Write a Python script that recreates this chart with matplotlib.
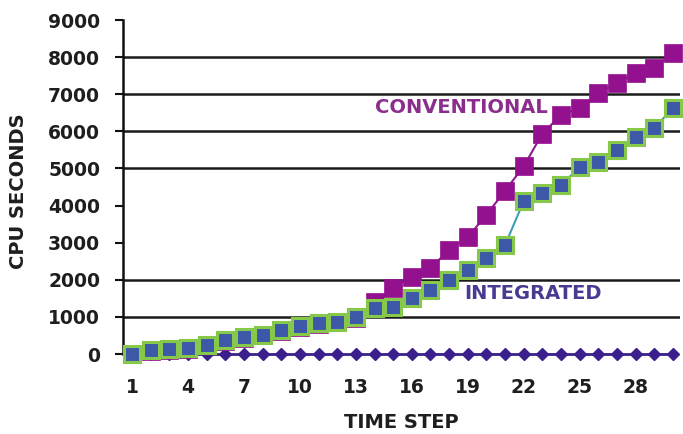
import matplotlib
matplotlib.use("Agg")
import matplotlib.pyplot as plt

# CPU seconds per time step
steps = list(range(1, 31))
conventional = [0, 90, 120, 140, 230, 360, 440, 500, 630, 740, 810, 850, 980, 1400,
                1780, 2075, 2320, 2800, 3150, 3750, 4400, 5060, 5940, 6440, 6630,
                7030, 7300, 7570, 7710, 8110]
integrated = [0, 100, 130, 150, 250, 380, 460, 510, 650, 760, 830, 870, 1000, 1240,
              1270, 1510, 1725, 1995, 2260, 2590, 2940, 4120, 4340, 4550, 5040,
              5170, 5500, 5850, 6090, 6630]
overhead = [0] * 30

y_ticks = list(range(0, 9001, 1000))
grid_levels = [1000, 2000, 5000, 6000, 7000, 8000]
x_ticks = list(range(1, 29, 3))

plt.rcParams['font.family'] = ['DejaVu Sans']

fig = plt.figure(figsize=(6.83, 4.34), dpi=100)
ax = fig.add_axes([0.1801, 0.1843, 0.8155, 0.7696])

for lvl in grid_levels:
    ax.axhline(lvl, color='#1a1a1a', lw=1.8, zorder=1)

ax.plot(steps, overhead, color='#3b1f8c', lw=2.0, marker='D', ms=6.5,
        mfc='#3b1f8c', mec='#3b1f8c', zorder=3, clip_on=False)
ax.plot(steps, conventional, color='#8e1a8e', lw=1.5, marker='s', ms=12.5,
        mfc='#93108f', mec='#93108f', mew=0.5, zorder=4, clip_on=False)
ax.plot(steps, integrated, color='#3f9fb2', lw=1.5, marker='s', ms=11,
        mfc='#3d58a6', mec='#86c94a', mew=2.2, zorder=5, clip_on=False)

ax.text(18.64, 6630, 'CONVENTIONAL', color='#8a2d8c', fontsize=14,
        fontweight='bold', ha='center', va='center', zorder=6)
ax.text(22.5, 1644, 'INTEGRATED', color='#4b3a92', fontsize=14,
        fontweight='bold', ha='center', va='center', zorder=6)

ax.set_xlim(0.518, 30.375)
ax.set_ylim(0, 9000)
ax.set_yticks(y_ticks)
ax.set_xticks(x_ticks)
ax.tick_params(axis='y', direction='out', length=6, width=1.5, color='#111111',
               pad=10.5, labelsize=13.5, labelcolor='#1e1e1e')
ax.tick_params(axis='x', length=0, pad=17, labelsize=13.5, labelcolor='#1e1e1e')
for lab in ax.get_yticklabels() + ax.get_xticklabels():
    lab.set_fontweight('bold')

for side in ['top', 'right', 'bottom']:
    ax.spines[side].set_visible(False)
ax.spines['left'].set_linewidth(1.8)
ax.spines['left'].set_color('#111111')

ax.set_ylabel('CPU SECONDS', fontsize=14, fontweight='bold', color='#1e1e1e',
              va='center')
ax.yaxis.set_label_coords(-0.187, 0.488)
ax.set_xlabel('TIME STEP', fontsize=14, fontweight='bold', color='#1e1e1e',
              va='center')
ax.xaxis.set_label_coords(0.499, -0.204)

fig.savefig('out.png', dpi=100)
